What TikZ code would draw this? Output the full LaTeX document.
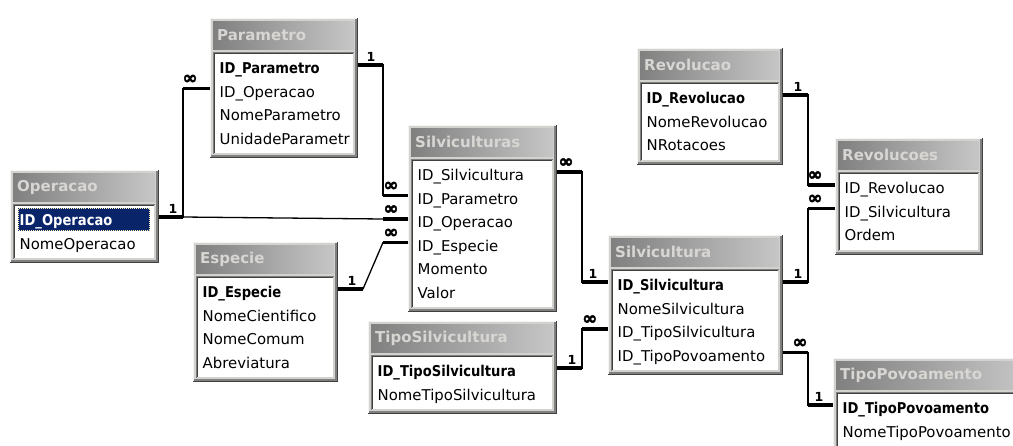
\documentclass[tikz,border=0pt]{standalone}
\usepackage{fontspec}
\setmainfont{DejaVu Sans}
\newfontfamily\pkfont{DejaVu Sans}[FakeStretch=0.88]
\newfontfamily\inffont{DejaVu Sans}[FakeBold=2.5]
\usetikzlibrary{calc}

% window colours (classic grey theme)
\definecolor{face}{RGB}{212,210,206}
\definecolor{edgehi}{RGB}{245,245,245}
\definecolor{edgemid}{RGB}{128,128,128}
\definecolor{edgedk}{RGB}{64,64,64}
\definecolor{barL}{RGB}{128,128,128}
\definecolor{barR}{RGB}{198,198,198}
\definecolor{bartext}{RGB}{216,214,210}
\definecolor{selbg}{RGB}{10,36,106}

\newcommand\pk{\pkfont\bfseries}

\tikzset{
  field/.style={anchor=west, inner sep=0pt, text height=17pt, text depth=0pt,
                font=\fontsize{14.9}{17}\selectfont},
  tabletitle/.style={anchor=west, inner sep=0pt, text=bartext,
                font=\fontsize{15}{18}\selectfont\bfseries},
  tableframe/.style={anchor=north west, inner sep=0pt, outer sep=0pt, draw=none},
  link/.style={line width=1.3pt, black},
  stub/.style={line width=3.3pt, black},
  one/.style={above=2pt, inner sep=0pt, font=\fontsize{12.5}{13}\selectfont\bfseries},
  many/.style={above=3pt, inner sep=0pt, font=\fontsize{18}{18}\inffont\bfseries},
}

% table window: name, title, left, top, right, number of fields
\newcommand\dbframe[6]{%
  \pgfmathsetmacro\tL{#3}%
  \pgfmathsetmacro\tT{#4}%
  \pgfmathsetmacro\tR{#5}%
  \pgfmathsetmacro\tB{#4+46+#6*23.5}%
  \node[tableframe, minimum width={#5-#3}, minimum height={\tB-#4}] (#1) at (#3,#4) {};
  \fill[face] (\tL,\tT) rectangle (\tR,\tB);
  \draw[edgehi, line width=1pt] ({\tL+0.5},\tB) -- ({\tL+0.5},{\tT+0.5}) -- (\tR,{\tT+0.5});
  \draw[edgemid, line width=2pt] ({\tL+1},{\tB-2}) -- ({\tR-2},{\tB-2}) -- ({\tR-2},{\tT+1});
  \draw[edgedk, line width=1pt] (\tL,{\tB-0.5}) -- ({\tR-0.5},{\tB-0.5}) -- ({\tR-0.5},\tT);
  \shade[left color=barL, right color=barR] ({\tL+3},{\tT+3}) rectangle ({\tR-4},{\tT+31});
  \fill[white] ({\tL+3},{\tT+34}) rectangle ({\tR-4},{\tB-4});
  \draw[edgemid, line width=1pt] ({\tL+3.5},{\tB-4}) -- ({\tL+3.5},{\tT+34.5}) -- ({\tR-4},{\tT+34.5});
  \draw[edgedk, line width=1pt] ({\tL+4.5},{\tB-5}) -- ({\tL+4.5},{\tT+35.5}) -- ({\tR-5},{\tT+35.5});
  \draw[face, line width=1pt] ({\tL+4},{\tB-4.5}) -- ({\tR-4.5},{\tB-4.5}) -- ({\tR-4.5},{\tT+35});
  \node[tabletitle] (#1-title) at ({\tL+7},{\tT+17}) {#2};
}

% field list of the last table window
\newcommand\dbrows[2]{%
  \foreach \f [count=\i] in {#2}
    \node[field] (#1-\i) at ({\tL+9.5},{\tT+47+(\i-1)*23.5}) {\f};
}

\begin{document}
\begin{tikzpicture}[x=1pt, y=-1pt]
\useasboundingbox (0,0) rectangle (1013,445);
\clip (0,0) rectangle (1013,445);
\fill[white] (0,0) rectangle (1013,445);

% ---- tables ----
\dbframe{par}{Parametro}{210}{18}{358}{4}
\dbrows{par}{{\pk ID\_Parametro}, ID\_Operacao, NomeParametro, UnidadeParametr}

\dbframe{op}{Operacao}{10}{170}{159}{2}
\fill[selbg] ({\tL+8},{\tT+38}) rectangle ({\tR-9},{\tT+61});
\draw[densely dotted, line width=1pt, yellow!30!white] ({\tL+8.5},{\tT+38.5}) rectangle ({\tR-9.5},{\tT+60.5});
\dbrows{op}{{\color{white}\pk ID\_Operacao}, NomeOperacao}

\dbframe{esp}{Especie}{193}{242}{338}{4}
\dbrows{esp}{{\pk ID\_Especie}, NomeCientifico, NomeComum, Abreviatura}

\dbframe{svs}{Silviculturas}{408}{125}{557}{6}
\dbrows{svs}{ID\_Silvicultura, ID\_Parametro, ID\_Operacao, ID\_Especie, Momento, Valor}

\dbframe{tsv}{TipoSilvicultura}{368}{321}{557}{2}
\dbrows{tsv}{{\pk ID\_TipoSilvicultura}, NomeTipoSilvicultura}

\dbframe{sil}{Silvicultura}{608}{235}{783}{4}
\dbrows{sil}{{\pk ID\_Silvicultura}, NomeSilvicultura, ID\_TipoSilvicultura, ID\_TipoPovoamento}

\dbframe{rev}{Revolucao}{637}{48}{783}{3}
\dbrows{rev}{{\pk ID\_Revolucao}, NomeRevolucao, NRotacoes}

\dbframe{rvs}{Revolucoes}{835}{138}{983}{3}
\dbrows{rvs}{ID\_Revolucao, ID\_Silvicultura, Ordem}

\dbframe{tpv}{TipoPovoamento}{833}{358}{1030}{2}
\dbrows{tpv}{{\pk ID\_TipoPovoamento}, NomeTipoPovoamento}

% ---- relationships ----
% Operacao -> Parametro
\draw[link] (op-1 -| op.east) -- ++(24,0) |- (par-2 -| par.west);
\draw[stub] (op-1 -| op.east) -- ++(24,0) node[one, pos=0.58] {1};
\draw[stub] (par-2 -| par.west) -- ++(-27,0) node[many, pos=0.74] {∞};

% Operacao -> Silviculturas
\draw[link] (op-1 -| op.east) -- ++(24,0) -- ($(svs-3 -| svs.west)+(-25,0)$) -- (svs-3 -| svs.west);
\draw[stub] (svs-3 -| svs.west) -- ++(-25,0) node[many, pos=0.68] {∞};

% Parametro -> Silviculturas
\draw[link] (par-1 -| par.east) -| ($(svs-2 -| svs.west)+(-25,0)$) -- (svs-2 -| svs.west);
\draw[stub] (par-1 -| par.east) -- ++(25,0) node[one, pos=0.52] {1};
\draw[stub] (svs-2 -| svs.west) -- ++(-25,0) node[many, pos=0.68] {∞};

% Especie -> Silviculturas
\draw[link] (esp-1 -| esp.east) -- ++(25,0) -- ($(svs-4 -| svs.west)+(-25,0)$) -- (svs-4 -| svs.west);
\draw[stub] (esp-1 -| esp.east) -- ++(25,0) node[one, pos=0.56] {1};
\draw[stub] (svs-4 -| svs.west) -- ++(-25,0) node[many, pos=0.68] {∞};

% Silvicultura -> Silviculturas
\draw[link] (svs-1 -| svs.east) -| ($(sil-1 -| sil.west)+(-26,0)$) -- (sil-1 -| sil.west);
\draw[stub] (svs-1 -| svs.east) -- ++(25,0) node[many, pos=0.36] {∞};
\draw[stub] (sil-1 -| sil.west) -- ++(-26,0) node[one, pos=0.58] {1};

% TipoSilvicultura -> Silvicultura
\draw[link] (tsv-1 -| tsv.east) -| ($(sil-3 -| sil.west)+(-26,0)$) -- (sil-3 -| sil.west);
\draw[stub] (tsv-1 -| tsv.east) -- ++(25,0) node[one, pos=0.6] {1};
\draw[stub] (sil-3 -| sil.west) -- ++(-26,0) node[many, pos=0.7] {∞};

% Revolucao -> Revolucoes
\draw[link] (rev-1 -| rev.east) -| ($(rvs-1 -| rvs.west)+(-27,0)$) -- (rvs-1 -| rvs.west);
\draw[stub] (rev-1 -| rev.east) -- ++(25,0) node[one, pos=0.6] {1};
\draw[stub] (rvs-1 -| rvs.west) -- ++(-27,0) node[many, pos=0.74] {∞};

% Silvicultura -> Revolucoes
\draw[link] (sil-1 -| sil.east) -| ($(rvs-2 -| rvs.west)+(-27,0)$) -- (rvs-2 -| rvs.west);
\draw[stub] (sil-1 -| sil.east) -- ++(25,0) node[one, pos=0.6] {1};
\draw[stub] (rvs-2 -| rvs.west) -- ++(-27,0) node[many, pos=0.74] {∞};

% TipoPovoamento -> Silvicultura
\draw[link] (sil-4 -| sil.east) -| ($(tpv-1 -| tpv.west)+(-25,0)$) -- (tpv-1 -| tpv.west);
\draw[stub] (sil-4 -| sil.east) -- ++(25,0) node[many, pos=0.68] {∞};
\draw[stub] (tpv-1 -| tpv.west) -- ++(-25,0) node[one, pos=0.56] {1};
\end{tikzpicture}
\end{document}
